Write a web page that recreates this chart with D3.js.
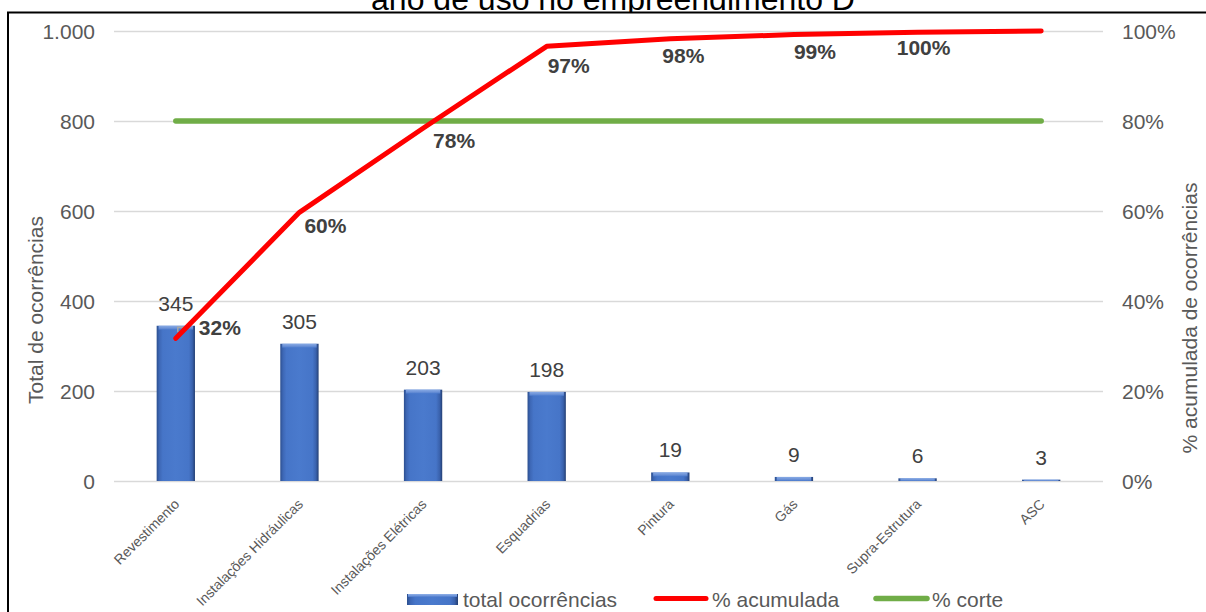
<!DOCTYPE html>
<html>
<head>
<meta charset="utf-8">
<script src="https://cdn.jsdelivr.net/npm/d3@7"></script>
<style>
  html, body { margin: 0; padding: 0; background: #fff; }
  svg { display: block; font-family: "Liberation Sans", Arial, sans-serif; }
</style>
</head>
<body>
<svg id="chart" width="1206" height="612"></svg>
<script>
// Pareto data: occurrences per building system
const categories = ["Revestimento", "Instalações Hidráulicas", "Instalações Elétricas", "Esquadrias",
                    "Pintura", "Gás", "Supra-Estrutura", "ASC"];
const totals = [345, 305, 203, 198, 19, 9, 6, 3];
const cumulativeShare = [0.317, 0.597, 0.784, 0.966, 0.983, 0.992, 0.997, 1.0];
const cutoffShare = 0.8;
const countTicks = [0, 200, 400, 600, 800, 1000];
const shareTicks = [0, 0.2, 0.4, 0.6, 0.8, 1.0];
const titleText = "ano de uso no empreendimento D";
const legendLabels = ["total ocorrências", "% acumulada", "% corte"];

// label nudges (px) for the cumulative-percentage labels, relative to each point
const pctLabelOffsets = [[44, -11], [26, 13], [31, 12], [22, 19], [13, 17], [21, 17], [6, 15], null];

const svg = d3.select("#chart");
const plot = { left: 114, right: 1103, top: 31, bottom: 481 };

const ptBR = d3.formatLocale({ decimal: ",", thousands: ".", grouping: [3], currency: ["R$", ""] });
const fmtCount = ptBR.format(",d");
const fmtPct = v => Math.round(v * 100) + "%";

const x = d3.scaleBand().domain(categories).range([plot.left, plot.right])
  .paddingInner(0.69).paddingOuter(0.345);
const yCount = d3.scaleLinear().domain([0, 1000]).range([plot.bottom, plot.top]);
const yShare = d3.scaleLinear().domain([0, 1]).range([plot.bottom, plot.top]);
const cx = c => x(c) + x.bandwidth() / 2;

// gradients for the bevelled bars
const defs = svg.append("defs");
const gH = defs.append("linearGradient").attr("id", "barBody").attr("x1", 0).attr("x2", 1).attr("y1", 0).attr("y2", 0);
[[0, "#2c4f8f"], [0.07, "#3d67b5"], [0.16, "#4675c8"], [0.5, "#4a7acd"], [0.84, "#4675c8"], [0.93, "#3a62ad"], [1, "#243f73"]]
  .forEach(([o, c]) => gH.append("stop").attr("offset", o).attr("stop-color", c));
const gT = defs.append("linearGradient").attr("id", "barTop").attr("x1", 0).attr("x2", 0).attr("y1", 0).attr("y2", 1);
[[0, "#8fb0e8"], [0.6, "#6f94d8"], [1, "#4a7acd"]]
  .forEach(([o, c]) => gT.append("stop").attr("offset", o).attr("stop-color", c));

// title (second line of the heading) sits behind the chart frame
svg.append("text").attr("x", 613).attr("y", 9.5).attr("text-anchor", "middle")
  .attr("font-size", 32).attr("fill", "#000").text(titleText);

// chart frame
svg.append("rect").attr("x", 8).attr("y", 12.5).attr("width", 1400).attr("height", 800)
  .attr("fill", "#fff").attr("stroke", "#000").attr("stroke-width", 2);

// gridlines
svg.append("g").selectAll("line").data(countTicks).join("line")
  .attr("x1", plot.left).attr("x2", plot.right)
  .attr("y1", d => Math.round(yCount(d)) + 0.5).attr("y2", d => Math.round(yCount(d)) + 0.5)
  .attr("stroke", "#d9d9d9").attr("stroke-width", 1.3);

// left axis labels
svg.append("g").selectAll("text").data(countTicks).join("text")
  .attr("x", 95).attr("y", d => yCount(d) + 7.5).attr("text-anchor", "end")
  .attr("font-size", 21).attr("fill", "#595959").text(d => fmtCount(d));

// right axis labels
svg.append("g").selectAll("text").data(shareTicks).join("text")
  .attr("x", 1122).attr("y", d => yShare(d) + 7.5).attr("text-anchor", "start")
  .attr("font-size", 21).attr("fill", "#595959").text(d => fmtPct(d));

// axis titles
svg.append("text").attr("transform", "translate(43,310) rotate(-90)").attr("text-anchor", "middle")
  .attr("font-size", 21).attr("fill", "#595959").text("Total de ocorrências");
svg.append("text").attr("transform", "translate(1197,318) rotate(-90)").attr("text-anchor", "middle")
  .attr("font-size", 21).attr("fill", "#595959").text("% acumulada de ocorrências");

// bars
const bars = svg.append("g");
categories.forEach((c, i) => {
  const y0 = yCount(totals[i]);
  const h = plot.bottom - y0;
  bars.append("rect").attr("x", x(c)).attr("y", y0).attr("width", x.bandwidth()).attr("height", h)
    .attr("fill", "url(#barBody)");
  bars.append("rect").attr("x", x(c) + 2).attr("y", y0).attr("width", x.bandwidth() - 4)
    .attr("height", Math.min(4, h)).attr("fill", "url(#barTop)").attr("opacity", 0.9);
});

// bar value labels
svg.append("g").selectAll("text").data(categories).join("text")
  .attr("x", d => cx(d)).attr("y", (d, i) => yCount(totals[i]) - 15)
  .attr("text-anchor", "middle").attr("font-size", 21).attr("fill", "#404040")
  .text((d, i) => totals[i]);

// x category labels
svg.append("g").selectAll("text").data(categories).join("text")
  .attr("transform", d => `translate(${cx(d) + 4.5},505) rotate(-45)`)
  .attr("text-anchor", "end").attr("font-size", 14).attr("fill", "#595959").text(d => d);

// cutoff line
svg.append("line")
  .attr("x1", cx(categories[0])).attr("x2", cx(categories[categories.length - 1]))
  .attr("y1", yShare(cutoffShare)).attr("y2", yShare(cutoffShare))
  .attr("stroke", "#70ad47").attr("stroke-width", 5.5).attr("stroke-linecap", "round");

// leader line for the first cumulative label
{
  const px = cx(categories[0]), py = yShare(cumulativeShare[0]);
  svg.append("path").attr("d", `M${px + 2},${py - 6}L${px + 2},${py - 11}L${px + 12},${py - 11}`)
    .attr("fill", "none").attr("stroke", "#a6a6a6").attr("stroke-width", 1.5);
}

// cumulative line
const line = d3.line().x((d, i) => cx(categories[i])).y(d => yShare(d));
svg.append("path").datum(cumulativeShare).attr("d", line)
  .attr("fill", "none").attr("stroke", "#ff0000").attr("stroke-width", 5)
  .attr("stroke-linecap", "round").attr("stroke-linejoin", "round");

// cumulative labels
svg.append("g").selectAll("text").data(cumulativeShare.map((v, i) => ({ v, i })).filter(d => pctLabelOffsets[d.i]))
  .join("text")
  .attr("x", d => cx(categories[d.i]) + pctLabelOffsets[d.i][0])
  .attr("y", d => yShare(d.v) + pctLabelOffsets[d.i][1] + 7.5)
  .attr("text-anchor", "middle").attr("font-size", 21).attr("font-weight", "bold").attr("fill", "#404040")
  .text(d => fmtPct(d.v));

// legend
const lg = svg.append("g");
lg.append("rect").attr("x", 407).attr("y", 594).attr("width", 51).attr("height", 11).attr("fill", "url(#barBody)");
lg.append("rect").attr("x", 408).attr("y", 594).attr("width", 49).attr("height", 3).attr("fill", "url(#barTop)");
lg.append("text").attr("x", 463).attr("y", 607).attr("font-size", 21).attr("fill", "#595959").text(legendLabels[0]);
lg.append("line").attr("x1", 656).attr("x2", 706).attr("y1", 598.5).attr("y2", 598.5)
  .attr("stroke", "#ff0000").attr("stroke-width", 5).attr("stroke-linecap", "round");
lg.append("text").attr("x", 712).attr("y", 607).attr("font-size", 21).attr("fill", "#595959").text(legendLabels[1]);
lg.append("line").attr("x1", 876).attr("x2", 927).attr("y1", 598.5).attr("y2", 598.5)
  .attr("stroke", "#70ad47").attr("stroke-width", 5.5).attr("stroke-linecap", "round");
lg.append("text").attr("x", 932).attr("y", 607).attr("font-size", 21).attr("fill", "#595959").text(legendLabels[2]);
</script>
</body>
</html>
